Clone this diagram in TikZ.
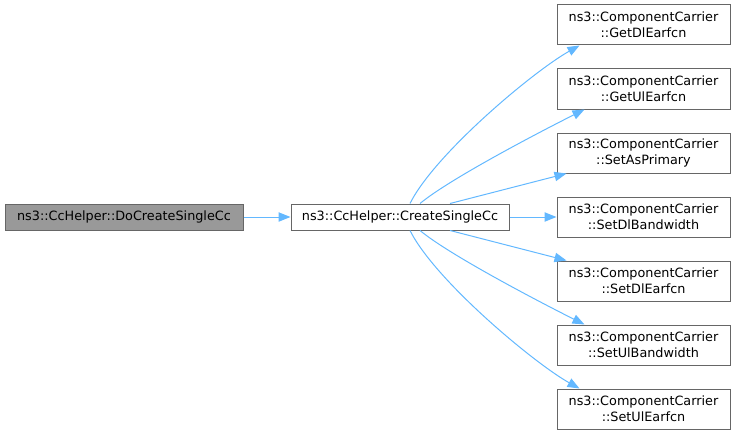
\documentclass[tikz,border=0pt]{standalone}
\usepackage{fontspec}
\setmainfont{DejaVu Sans}
\usetikzlibrary{arrows.meta,positioning}
\definecolor{edgeblue}{HTML}{63B8FF}
\definecolor{boxline}{HTML}{666666}
\definecolor{boxgray}{HTML}{999999}

\begin{document}
\begin{tikzpicture}[x=0.75pt,y=-0.75pt,
    fn/.style={draw=boxline, fill=white, inner sep=0pt, align=center,
        line width=0.75pt, font=\fontsize{9.6}{12}\selectfont},
    caller/.style={fn, fill=boxgray, minimum width=178.5pt, minimum height=19.5pt},
    helper/.style={fn, minimum width=163.5pt, minimum height=19.5pt},
    member/.style={fn, minimum width=129.75pt, minimum height=30pt},
    call/.style={draw=edgeblue, line width=0.75pt,
        -{Triangle[length=9pt,width=7pt]}}]
    \useasboundingbox (0,0) rectangle (735,435);

    \node[caller] (docreate) at (124,217) {ns3::CcHelper::DoCreateSingleCc};
    \node[helper] (create) at (400,217) {ns3::CcHelper::CreateSingleCc};

    \foreach \i/\fname in {1/GetDlEarfcn,2/GetUlEarfcn,3/SetAsPrimary,
        4/SetDlBandwidth,5/SetDlEarfcn,6/SetUlBandwidth,7/SetUlEarfcn}
        \node[member] (cc\i) at (643.5,{25+64*(\i-1)})
            {ns3::ComponentCarrier\\::\fname};

    \draw[call] (docreate.east) -- (create.west);

    % calls going up
    \draw[call] ([xshift=7.5pt]create.north) .. controls +(25,-50) and +(-45,25)
        .. ([xshift=17.25pt]cc1.south west);
    \draw[call] ([xshift=15pt]create.north) .. controls +(30,-25) and +(-40,20)
        .. ([xshift=21pt]cc2.south west);
    \draw[call] ([xshift=37.5pt]create.north) -- ([xshift=7.5pt]cc3.south west);
    \draw[call] (create.east) -- (cc4.west);

    % calls going down
    \draw[call] ([xshift=37.5pt]create.south) -- ([xshift=7.5pt]cc5.north west);
    \draw[call] ([xshift=15pt]create.south) .. controls +(30,25) and +(-40,-20)
        .. ([xshift=21pt]cc6.north west);
    \draw[call] ([xshift=7.5pt]create.south) .. controls +(25,50) and +(-45,-25)
        .. ([xshift=17.25pt]cc7.north west);
\end{tikzpicture}
\end{document}
